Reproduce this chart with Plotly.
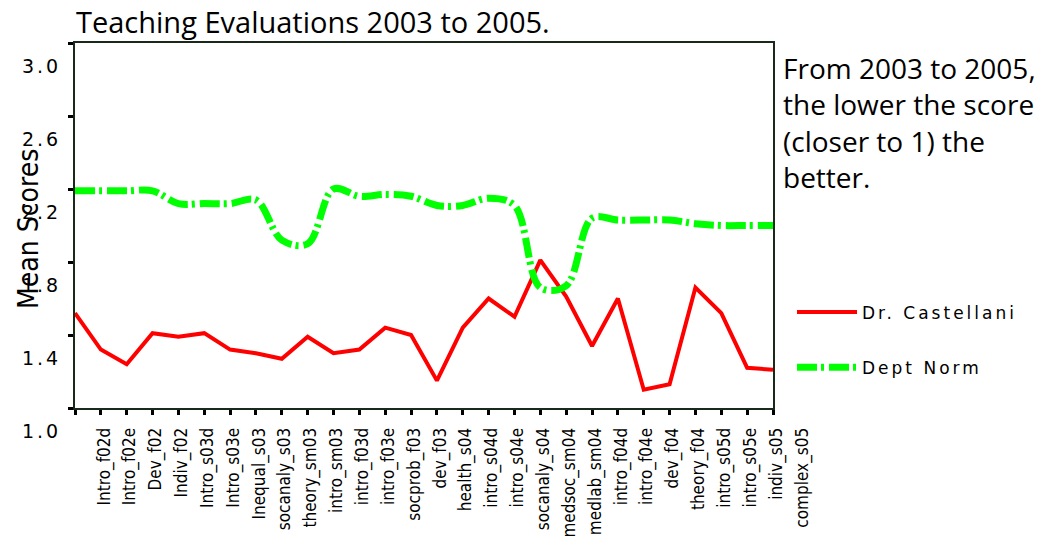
import plotly.graph_objects as go

categories = ["Intro_f02d", "Intro_f02e", "Dev_f02", "Indiv_f02", "Intro_s03d", "Intro_s03e",
              "Inequal_s03", "socanaly_s03", "theory_sm03", "intro_sm03", "intro_f03d", "intro_f03e",
              "socprob_f03", "dev_f03", "health_s04", "intro_s04d", "intro_s04e", "socanaly_s04",
              "medsoc_sm04", "medlab_sm04", "intro_f04d", "intro_f04e", "dev_f04", "theory_f04",
              "intro_s05d", "intro_s05e", "indiv_s05", "complex_s05"]

castellani = [1.52, 1.32, 1.24, 1.41, 1.39, 1.41, 1.32, 1.30, 1.27, 1.39, 1.30, 1.32, 1.44, 1.40,
              1.15, 1.44, 1.60, 1.50, 1.81, 1.61, 1.34, 1.60, 1.10, 1.13, 1.66, 1.52, 1.22, 1.21]

dept_norm = [2.19, 2.19, 2.19, 2.19, 2.12, 2.12, 2.12, 2.14, 1.92, 1.90, 2.20, 2.16, 2.17, 2.16,
             2.11, 2.11, 2.15, 2.11, 1.66, 1.67, 2.04, 2.03, 2.03, 2.03, 2.01, 2.00, 2.00, 2.00]

y_ticks = [1.0, 1.4, 1.8, 2.2, 2.6, 3.0]

narrow = "DejaVu Sans Condensed, Liberation Sans Narrow, Roboto, sans-serif"

fig = go.Figure()
fig.add_trace(go.Scatter(
    x=categories, y=castellani, mode="lines", name="Dr. Castellani",
    line=dict(color="#ff0000", width=4), legendgroup="a"))
fig.add_trace(go.Scatter(
    x=categories, y=dept_norm, mode="lines", name="Dept Norm",
    line=dict(color="#00ff00", width=7, dash="20px,4px,3px,5px", shape="spline", smoothing=1.0),
    legendgroup="b"))

axis_col = "#1a2a1a"
fig.update_layout(
    width=1046, height=548,
    margin=dict(l=75, r=273, t=43, b=140, autoexpand=False),
    paper_bgcolor="white", plot_bgcolor="white",
    title=dict(text="Teaching Evaluations 2003 to 2005.", x=76 / 1046, xanchor="left",
               y=1 - 23 / 548, yanchor="middle", yref="container",
               font=dict(family="Open Sans", size=29, color="black")),
    xaxis=dict(type="category", range=[0, len(categories) - 1], showgrid=False, zeroline=False,
               automargin=False,
               showline=True, linecolor=axis_col, linewidth=2, mirror=True,
               ticks="outside", ticklen=5, tickwidth=3, tickcolor="black",
               tickangle=-90, ticklabelshift=29, ticklabelstandoff=6,
               tickfont=dict(family=narrow, size=17, color="black")),
    yaxis=dict(range=[1.0, 3.0], tickvals=y_ticks, tickformat=".1f", showgrid=False, zeroline=False,
               automargin=False,
               showline=True, linecolor=axis_col, linewidth=2, mirror=True,
               ticks="outside", ticklen=5, tickwidth=3, tickcolor="black",
               ticklabelshift=23, ticklabelstandoff=3,
               tickfont=dict(family="DejaVu Sans", size=19, color="black")),
    legend=dict(x=(792 - 75) / 698, xanchor="left", y=0.311, yanchor="top", tracegroupgap=30,
                itemwidth=60, bgcolor="rgba(0,0,0,0)",
                font=dict(family="DejaVu Sans", size=17, color="black")),
    annotations=[
        dict(text="From 2003 to 2005,<br>the lower the score<br>(closer to 1) the<br>better.",
             xref="paper", yref="paper", x=(781 - 75) / 698, y=(408 - 47) / 365,
             xanchor="left", yanchor="top", align="left", showarrow=False,
             font=dict(family="Open Sans", size=28, color="black")),
        dict(text="Mean Scores", textangle=-90, xref="paper", yref="paper",
             x=(28 - 75) / 698, y=(408 - 229) / 365, xanchor="center", yanchor="middle",
             showarrow=False, font=dict(family=narrow, size=28, color="black")),
    ],
)

post = """
document.body.style.margin='0';
document.querySelectorAll('.legend [clip-path]').forEach(function(e){e.removeAttribute('clip-path');});
document.querySelectorAll('.legendtext').forEach(function(e){e.style.letterSpacing='3px';});
document.querySelectorAll('.ytick text, text.ytick').forEach(function(e){e.style.letterSpacing='3px';});
"""

fig.write_html("out.html", post_script=post, config={"displayModeBar": False})
